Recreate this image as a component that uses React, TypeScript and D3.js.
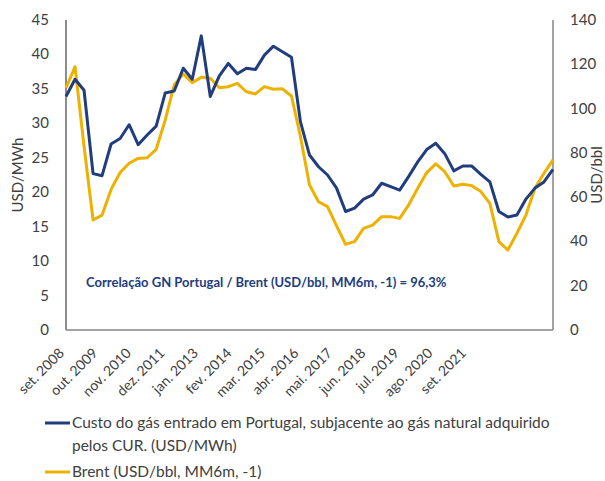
import { useEffect, useRef } from "react";
import * as d3 from "d3";

// one point every 3.5 months, one tick label every 13 months
const gasCost = [
  33.9, 36.4, 34.8, 22.7, 22.4, 27.0, 27.8, 29.8, 26.9, 28.3, 29.6, 34.4, 34.7, 38.0,
  36.4, 42.7, 33.9, 36.9, 38.7, 37.2, 38.0, 37.8, 39.9, 41.2, 40.4, 39.6, 30.2, 25.4,
  23.7, 22.5, 20.6, 17.2, 17.7, 19.0, 19.6, 21.3, 20.8, 20.3, 22.3, 24.4, 26.2, 27.1,
  25.6, 23.1, 23.8, 23.8, 22.6, 21.5, 17.2, 16.4, 16.7, 19.0, 20.6, 21.5, 23.3,
];
const brent = [
  109.2, 118.9, 83.0, 49.7, 51.9, 63.5, 71.1, 75.3, 77.5, 77.8, 81.6, 94.8, 110.7, 115.6,
  111.7, 114.1, 113.7, 109.4, 109.9, 111.4, 107.6, 106.6, 109.9, 108.7, 108.9, 105.7, 87.3, 65.5,
  57.9, 55.7, 47.0, 38.7, 39.9, 45.9, 47.4, 51.2, 51.2, 50.4, 56.5, 64.0, 71.1, 75.0,
  71.5, 65.0, 65.8, 65.2, 62.5, 57.2, 39.9, 36.1, 43.7, 51.9, 64.0, 70.8, 76.8,
];
const tickLabels = [
  "set. 2008", "out. 2009", "nov. 2010", "dez. 2011", "jan. 2013", "fev. 2014", "mar. 2015",
  "abr. 2016", "mai. 2017", "jun. 2018", "jul. 2019", "ago. 2020", "set. 2021",
];
const leftTicks = [0, 5, 10, 15, 20, 25, 30, 35, 40, 45];
const rightTicks = [0, 20, 40, 60, 80, 100, 120, 140];
const MONTHS_PER_POINT = 3.5;
const MONTHS_PER_LABEL = 13;

const BLUE = "#223D7E";
const YELLOW = "#EDB100";
const GREY = "#404040";
const FONT = "Lato, 'Open Sans', sans-serif";

export default function App() {
  const ref = useRef<SVGSVGElement>(null);

  useEffect(() => {
    const el = ref.current;
    if (!el) return;
    const W = 605, H = 481;
    const M = { top: 20, right: 52, bottom: 151, left: 66 };
    const svg = d3.select(el).attr("width", W).attr("height", H);
    svg.selectAll("*").remove();

    const n = gasCost.length;
    const x = d3.scaleLinear().domain([0, (n - 1) * MONTHS_PER_POINT]).range([M.left, W - M.right]);
    const yL = d3.scaleLinear().domain([0, 45]).range([H - M.bottom, M.top]);
    const yR = d3.scaleLinear().domain([0, 140]).range([H - M.bottom, M.top]);

    // axis lines
    svg.append("line").attr("x1", M.left).attr("x2", M.left).attr("y1", yL(45)).attr("y2", yL(0))
      .attr("stroke", "#1a1a1a").attr("stroke-width", 1);
    svg.append("line").attr("x1", W - M.right).attr("x2", W - M.right).attr("y1", yR(140)).attr("y2", yR(0))
      .attr("stroke", "#858585").attr("stroke-width", 1.5);
    svg.append("line").attr("x1", M.left).attr("x2", W - M.right).attr("y1", yL(0)).attr("y2", yL(0))
      .attr("stroke", "#858585").attr("stroke-width", 1.5);

    svg.append("g").selectAll("text").data(leftTicks).join("text")
      .attr("x", 49).attr("y", (d) => yL(d) + 5).attr("text-anchor", "end")
      .attr("font-family", FONT).attr("font-size", 15).attr("fill", GREY).text((d) => d);
    svg.append("g").selectAll("text").data(rightTicks).join("text")
      .attr("x", 570).attr("y", (d) => yR(d) + 5).attr("text-anchor", "start")
      .attr("font-family", FONT).attr("font-size", 15).attr("fill", GREY).text((d) => d);

    svg.append("text").attr("transform", `translate(23,${(yL(0) + yL(45)) / 2}) rotate(-90)`)
      .attr("text-anchor", "middle").attr("font-family", FONT).attr("font-size", 15).attr("fill", GREY)
      .text("USD/MWh");
    svg.append("text").attr("transform", `translate(602,${(yR(0) + yR(140)) / 2}) rotate(-90)`)
      .attr("text-anchor", "middle").attr("font-family", FONT).attr("font-size", 15).attr("fill", GREY)
      .text("USD/bbl");

    svg.append("g").selectAll("text").data(tickLabels).join("text")
      .attr("transform", (_, i) => `translate(${x(i * MONTHS_PER_LABEL) - 1},${yL(0) + 24}) rotate(-45)`)
      .attr("text-anchor", "end").attr("font-family", FONT).attr("font-size", 14).attr("fill", GREY)
      .text((d) => d);

    const lineL = d3.line<number>().x((_, i) => x(i * MONTHS_PER_POINT)).y((d) => yL(d));
    const lineR = d3.line<number>().x((_, i) => x(i * MONTHS_PER_POINT)).y((d) => yR(d));
    svg.append("path").datum(brent).attr("d", lineR).attr("fill", "none")
      .attr("stroke", YELLOW).attr("stroke-width", 3).attr("stroke-linejoin", "round");
    svg.append("path").datum(gasCost).attr("d", lineL).attr("fill", "none")
      .attr("stroke", BLUE).attr("stroke-width", 3).attr("stroke-linejoin", "round");

    svg.append("text").attr("x", 86).attr("y", 287).attr("font-family", FONT).attr("font-size", 13)
      .attr("font-weight", "bold").attr("fill", BLUE)
      .text("Correlação GN Portugal / Brent (USD/bbl, MM6m, -1) = 96,3%");

    // legend
    const lg = svg.append("g").attr("font-family", FONT).attr("font-size", 15.5).attr("fill", GREY);
    lg.append("line").attr("x1", 45).attr("x2", 70).attr("y1", 423).attr("y2", 423).attr("stroke", BLUE).attr("stroke-width", 3);
    lg.append("text").attr("x", 72).attr("y", 428).text("Custo do gás entrado em Portugal, subjacente ao gás natural adquirido");
    lg.append("text").attr("x", 72).attr("y", 451).text("pelos CUR. (USD/MWh)");
    lg.append("line").attr("x1", 45).attr("x2", 70).attr("y1", 472).attr("y2", 472).attr("stroke", YELLOW).attr("stroke-width", 3);
    lg.append("text").attr("x", 72).attr("y", 477).text("Brent (USD/bbl, MM6m, -1)");
  }, []);

  return <svg ref={ref} style={{ position: "absolute", left: 0, top: 0 }} role="img" aria-label="Gas cost vs Brent" />;
}
